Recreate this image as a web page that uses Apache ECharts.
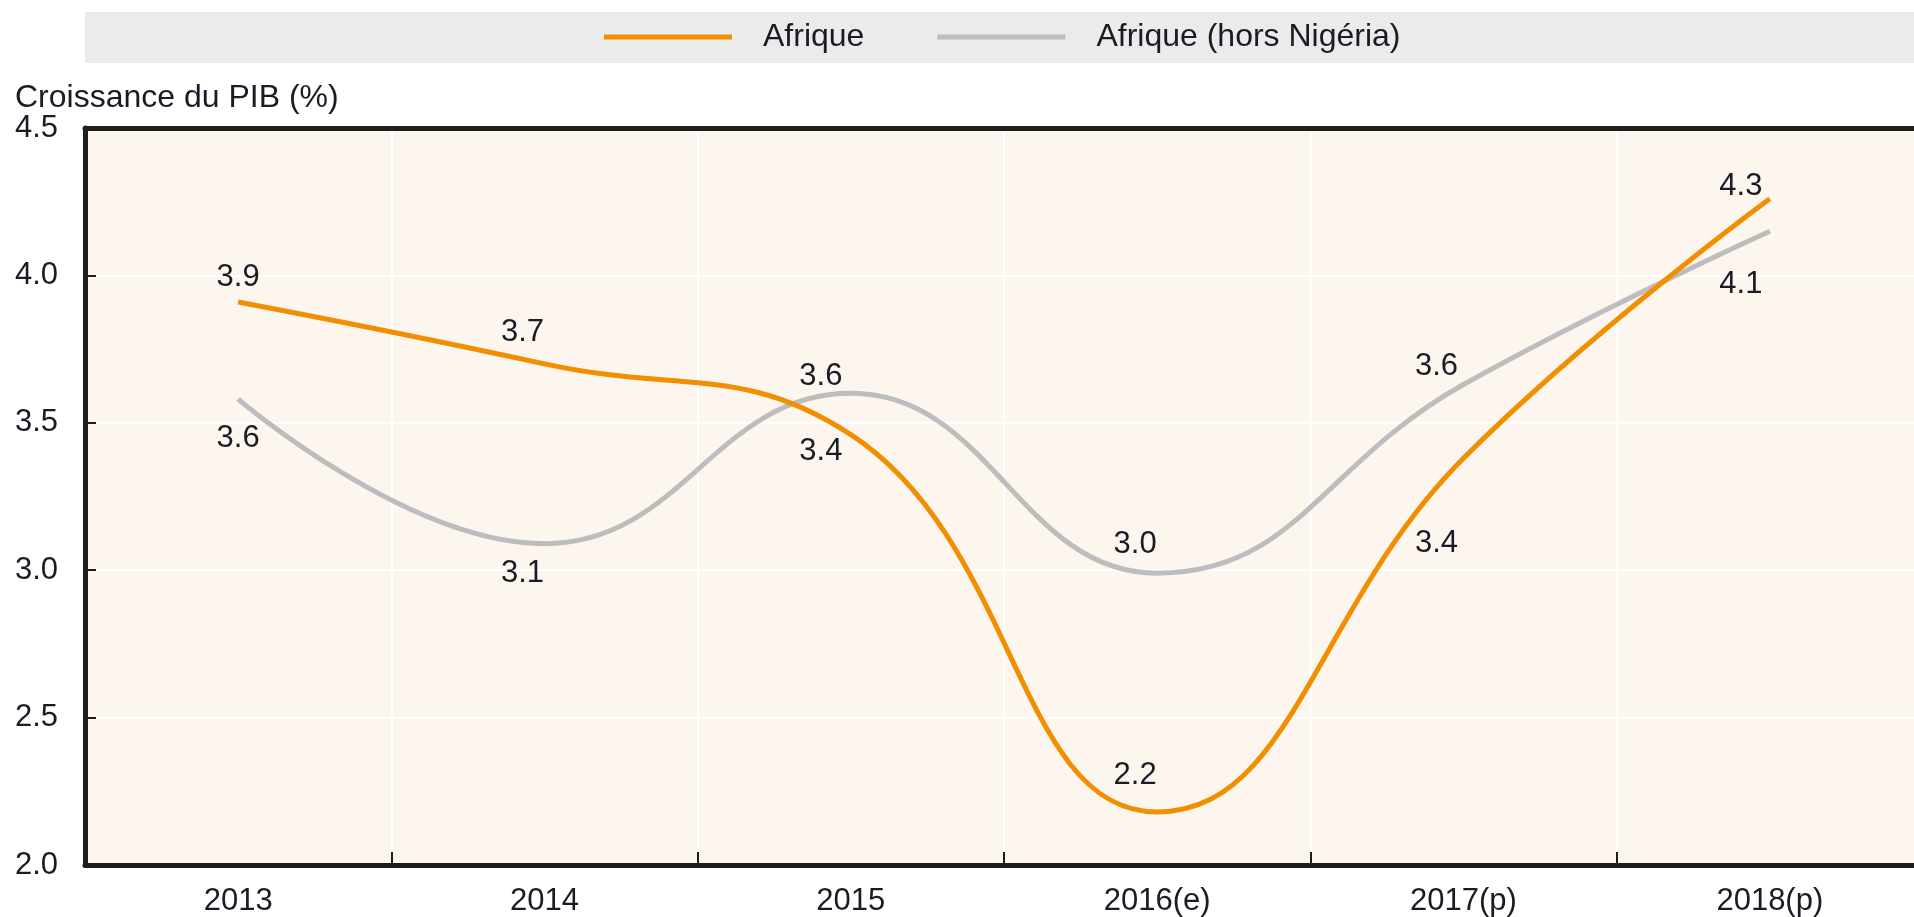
<!DOCTYPE html>
<html>
<head>
<meta charset="utf-8">
<title>Croissance du PIB</title>
<script src="https://cdn.jsdelivr.net/npm/echarts@6/dist/echarts.min.js"></script>
<style>
  html, body { margin: 0; padding: 0; background: #fff; overflow: hidden; }
  #chart { width: 1914px; height: 917px; }
</style>
</head>
<body>
<div id="chart"></div>
<script>
// data
const years = ['2013', '2014', '2015', '2016(e)', '2017(p)', '2018(p)'];
const afrique = [3.91, 3.70, 3.46, 2.18, 3.38, 4.26];
const afriqueHorsNigeria = [3.58, 3.09, 3.60, 2.99, 3.63, 4.15];
// printed values next to the points
const afriqueText = ['3.9', '3.7', '3.4', '2.2', '3.4', '4.3'];
const horsNigeriaText = ['3.6', '3.1', '3.6', '3.0', '3.6', '4.1'];
const yTicks = ['2.0', '2.5', '3.0', '3.5', '4.0', '4.5'];

const FONT = "'Liberation Sans', Arial, sans-serif";
const INK = '#1b1b26';
const AXIS = '#1e1e1e';
const ORANGE = '#F28F00';
const GREY = '#BDBDBD';

// where each value label sits relative to its point
const afriqueShift = [[0, -24], [-22, -31], [-30, 17], [-22, -36], [-27, 85], [-29, -12]];
const horsShift = [[0, 39], [-22, 30], [-30, -17], [-22, -29], [-27, -18], [-29, 53]];

function withLabels(values, texts, shifts) {
  return values.map((v, i) => ({
    value: v,
    label: { offset: shifts[i], formatter: texts[i] }
  }));
}

const chart = echarts.init(document.getElementById('chart'));

const option = {
  animation: false,
  textStyle: { fontFamily: FONT, color: INK },
  title: {
    text: 'Croissance du PIB (%)',
    left: 10,
    top: 77,
    textStyle: { fontFamily: FONT, fontSize: 32, fontWeight: 'normal', color: INK }
  },
  graphic: [{
    type: 'rect',
    z: -1,
    shape: { x: 85, y: 12, width: 1829, height: 51 },
    style: { fill: '#EBEBEB' }
  }],
  legend: {
    data: ['Afrique', 'Afrique (hors Nigéria)'],
    left: 604,
    top: 21,
    padding: 0,
    icon: 'rect',
    itemWidth: 128,
    itemHeight: 5,
    itemGap: 73,
    textStyle: { fontFamily: FONT, fontSize: 32, color: INK, padding: [0, 0, 0, 26] }
  },
  // plot runs a little past the right edge of the picture
  grid: {
    left: 85,
    top: 128,
    width: 1838,
    height: 737,
    outerBoundsMode: 'none',
    containLabel: false,
    show: true,
    backgroundColor: '#FDF6EF',
    borderWidth: 0
  },
  xAxis: [{
    type: 'category',
    data: years,
    boundaryGap: true,
    axisLine: { show: true, lineStyle: { color: AXIS, width: 5 } },
    axisTick: { show: true, inside: true, length: 13, lineStyle: { color: AXIS, width: 2 } },
    axisLabel: { fontFamily: FONT, fontSize: 31, color: INK, margin: 21 },
    splitLine: { show: true, lineStyle: { color: '#ffffff', width: 2 } }
  }, {
    // top frame of the plot
    type: 'category',
    data: years,
    position: 'top',
    z: 5,
    axisLine: { show: true, lineStyle: { color: AXIS, width: 5 } },
    axisTick: { show: false },
    axisLabel: { show: false },
    splitLine: { show: false }
  }],
  yAxis: {
    type: 'value',
    min: 2,
    max: 4.5,
    interval: 0.5,
    axisLine: { show: true, lineStyle: { color: AXIS, width: 5 } },
    axisTick: { show: true, inside: true, length: 11, lineStyle: { color: AXIS, width: 2 } },
    axisLabel: {
      fontFamily: FONT, fontSize: 31, color: INK, margin: 27,
      formatter: v => yTicks[Math.round((v - 2) / 0.5)]
    },
    splitLine: { show: true, lineStyle: { color: '#ffffff', width: 2 } }
  },
  series: [
    {
      name: 'Afrique',
      type: 'line',
      smooth: 0.45,
      symbol: 'circle',
      symbolSize: 0.01,
      color: ORANGE,
      lineStyle: { color: ORANGE, width: 5 },
      label: { show: true, position: 'inside', fontFamily: FONT, fontSize: 31, color: INK },
      data: withLabels(afrique, afriqueText, afriqueShift),
      z: 3
    },
    {
      name: 'Afrique (hors Nigéria)',
      type: 'line',
      smooth: 0.45,
      symbol: 'circle',
      symbolSize: 0.01,
      color: GREY,
      lineStyle: { color: GREY, width: 5 },
      label: { show: true, position: 'inside', fontFamily: FONT, fontSize: 31, color: INK },
      data: withLabels(afriqueHorsNigeria, horsNigeriaText, horsShift),
      z: 2
    }
  ]
};

chart.setOption(option);
</script>
</body>
</html>
